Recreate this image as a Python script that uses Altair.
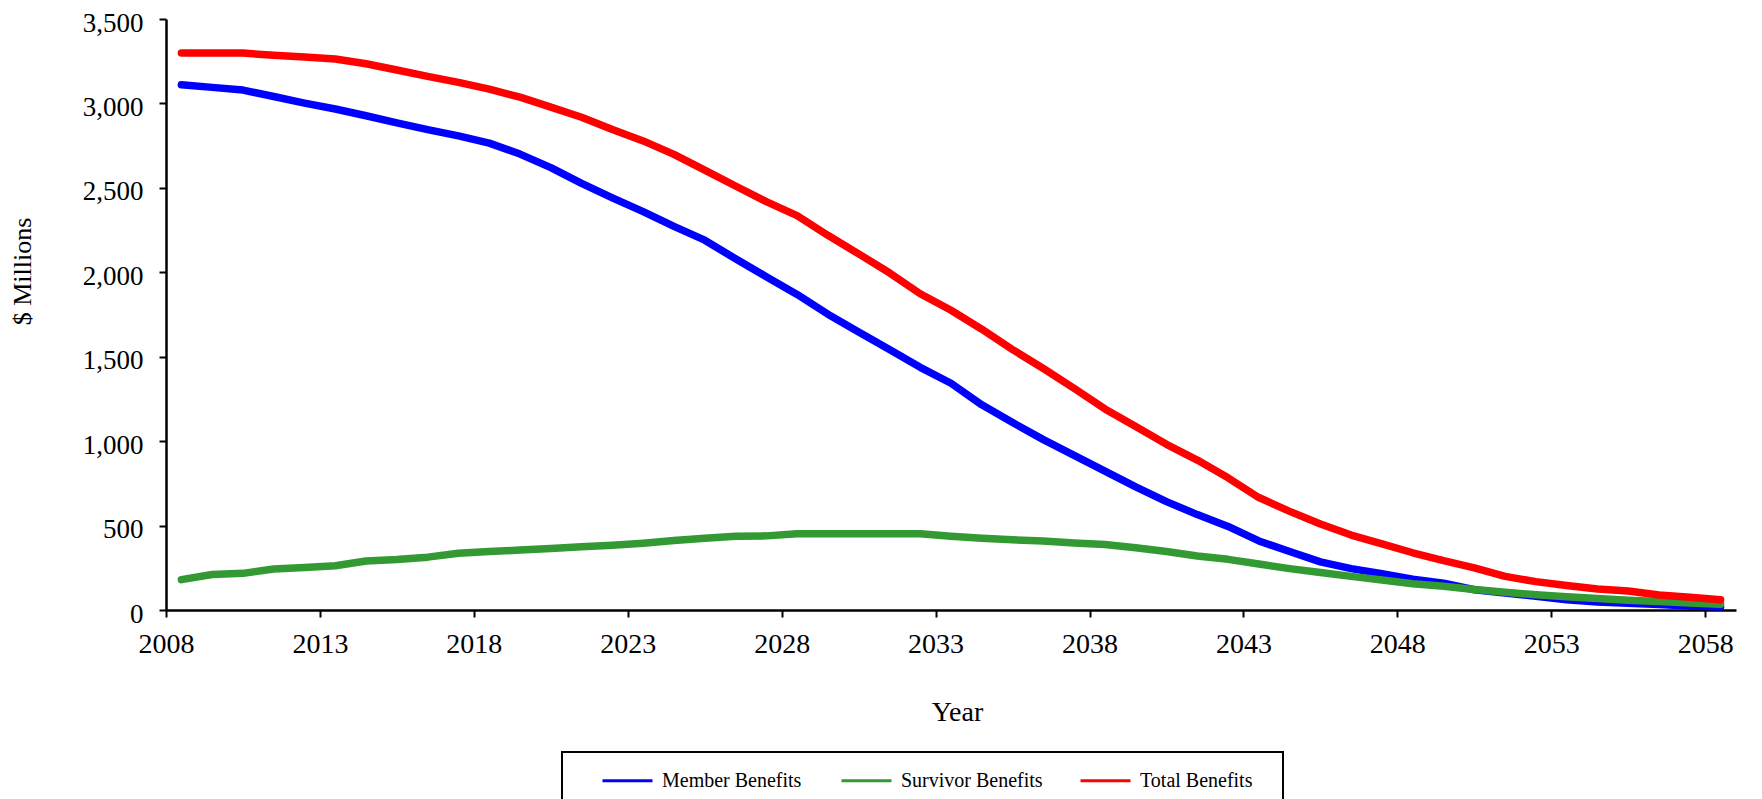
import altair as alt
import pandas as pd

years = list(range(2008, 2059))

member = [3111, 3095, 3079, 3041, 3002, 2967, 2927, 2885, 2845, 2808,
          2765, 2700, 2620, 2527, 2441, 2359, 2272, 2190, 2080, 1974,
          1869, 1752, 1647, 1542, 1437, 1343, 1215, 1110, 1009, 916,
          822, 729, 642, 565, 495, 409, 346, 285, 245, 215,
          182, 159, 120, 100, 82, 60, 48, 40, 32, 24, 18]

survivor = [180, 210, 217, 243, 252, 262, 290, 299, 313, 336,
            346, 355, 364, 374, 383, 395, 411, 425, 437, 439,
            451, 451, 451, 451, 451, 437, 425, 416, 409, 397,
            388, 369, 346, 320, 300, 272, 245, 222, 199, 178,
            155, 140, 122, 105, 90, 78, 68, 58, 50, 42, 34]

total = [3298, 3298, 3298, 3285, 3275, 3263, 3235, 3198, 3160, 3125,
         3085, 3037, 2978, 2918, 2845, 2778, 2698, 2605, 2511, 2418,
         2336, 2219, 2109, 1997, 1873, 1775, 1663, 1542, 1430, 1313,
         1191, 1086, 981, 888, 783, 666, 584, 509, 444, 392,
         339, 292, 250, 199, 168, 145, 124, 112, 89, 75, 61]

series_names = ["Member Benefits", "Survivor Benefits", "Total Benefits"]
series_colors = ["#0000FF", "#339933", "#FF0000"]
x_ticks = list(range(2008, 2059, 5))
y_ticks = list(range(0, 3501, 500))

rows = []
for name, vals in zip(series_names, [member, survivor, total]):
    for yr, v in zip(years, vals):
        rows.append({"Year": yr, "Series": name, "Value": v})
df = pd.DataFrame(rows)

FONT = "Liberation Serif"

chart = (
    alt.Chart(df)
    .transform_calculate(pos="datum.Year + 0.5")
    .mark_line(strokeWidth=7.5, strokeCap="round", strokeJoin="round")
    .encode(
        x=alt.X(
            "pos:Q",
            scale=alt.Scale(domain=[2008, 2059], nice=False, zero=False),
            axis=alt.Axis(
                values=x_ticks,
                format="d",
                title="Year",
                labelFlush=False,
                labelOverlap=False,
                labelPadding=13,
                titleX=791,
                titleY=102,
                titleAlign="center",
                titleBaseline="middle",
                titleFontSize=28,
            ),
        ),
        y=alt.Y(
            "Value:Q",
            scale=alt.Scale(domain=[0, 3500], nice=False),
            axis=alt.Axis(
                values=y_ticks,
                format=",d",
                title="$ Millions",
                labelPadding=16,
                labelOffset=4,
                labelFontSize=27,
                titleAngle=270,
                titleX=-144,
                titleY=252,
                titleAlign="center",
                titleBaseline="middle",
                titleFontSize=26,
            ),
        ),
        color=alt.Color(
            "Series:N",
            scale=alt.Scale(domain=series_names, range=series_colors),
            sort=series_names,
            legend=alt.Legend(
                title=" ",
                titleOrient="right",
                titlePadding=14,
                titleFontSize=20,
                orient="none",
                legendX=396,
                legendY=733,
                direction="horizontal",
                columns=3,
                gridAlign="all",
                symbolType="M-2.5,0L2.5,0",
                symbolSize=400,
                symbolStrokeWidth=3,
                symbolOffset=37,
                labelOffset=23,
                columnPadding=14,
                padding=17,
                strokeColor="black",
                labelFont=FONT,
                labelFontSize=20,
                labelColor="black",
                labelLimit=400,
            ),
        ),
    )
    .properties(
        width=1570,
        height=591,
        autosize=alt.AutoSizeParams(type="none"),
        padding={"left": 158, "top": 11, "right": 10, "bottom": 209},
    )
    .configure_view(stroke=None)
    .configure_axis(
        grid=False,
        domainColor="black",
        domainWidth=2.5,
        tickColor="black",
        tickWidth=2,
        tickSize=7,
        labelFont=FONT,
        labelFontSize=28,
        labelColor="black",
        titleFont=FONT,
        titleFontWeight="normal",
        titleColor="black",
    )
    .configure_legend(strokeWidth=2)
)

chart.save("out.html", embed_options={"renderer": "svg", "actions": False})
